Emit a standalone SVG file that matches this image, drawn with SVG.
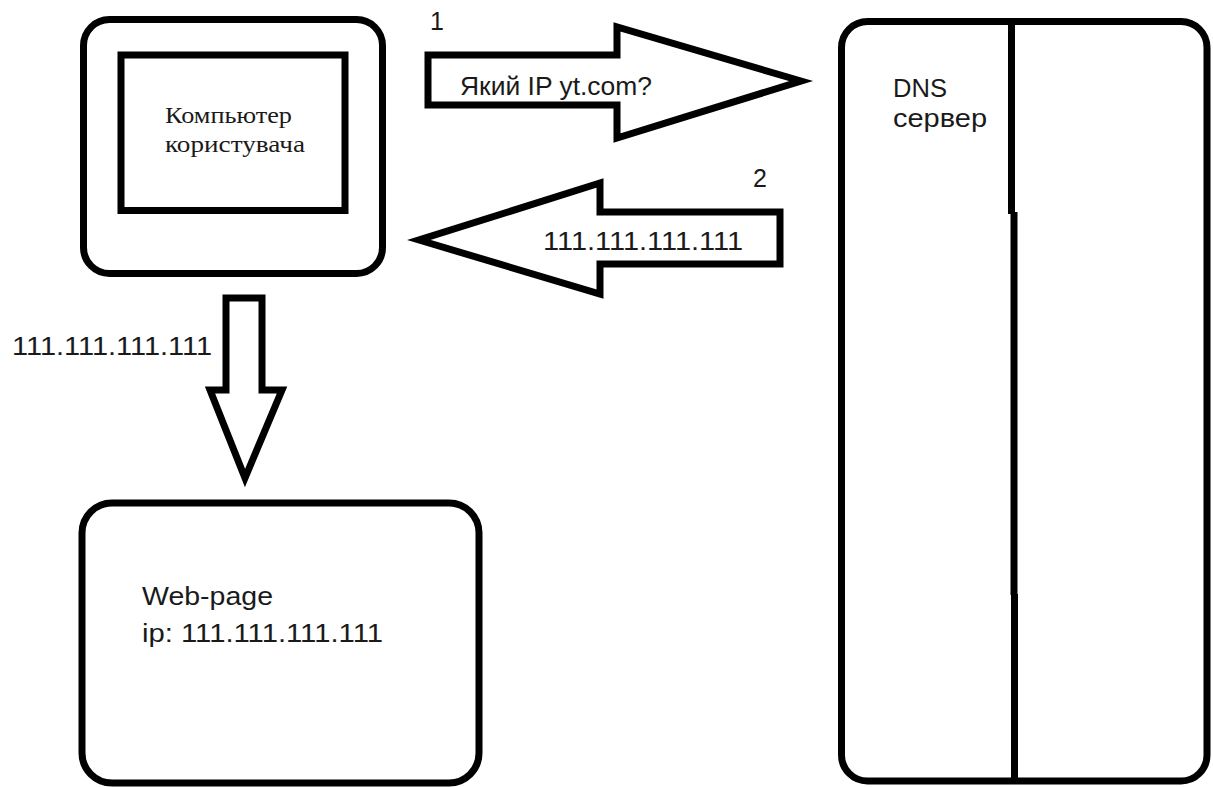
<svg xmlns="http://www.w3.org/2000/svg" width="1213" height="787" viewBox="0 0 1213 787">
  <style>
    .box { fill: #ffffff; stroke: #000000; stroke-width: 7; }
    .arrow { fill: #ffffff; stroke: #000000; stroke-width: 7; stroke-linejoin: miter; stroke-miterlimit: 10; }
    .sans { font-family: "Liberation Sans", Arial, sans-serif; font-size: 25px; fill: #1a1a1a; }
    .serif { font-family: "Liberation Serif", "Times New Roman", serif; font-size: 23px; fill: #1a1a1a; }
  </style>
  <rect width="1213" height="787" fill="#ffffff"/>

  <!-- user's computer: monitor with screen -->
  <g id="computer">
    <rect class="box" x="83.5" y="19.5" width="299" height="254" rx="26" ry="26"/>
    <rect class="box" x="121" y="55" width="224" height="155.5"/>
    <text class="serif" x="165" y="123" textLength="127" lengthAdjust="spacingAndGlyphs">Компьютер</text>
    <text class="serif" x="165" y="152" textLength="140" lengthAdjust="spacingAndGlyphs">користувача</text>
  </g>

  <!-- DNS server: tall cabinet split into two halves -->
  <g id="dns-server">
    <rect class="box" x="841.5" y="21.5" width="365.5" height="759.5" rx="26" ry="26"/>
    <path fill="none" stroke="#000000" stroke-width="7" d="M1011.5,22 V214 M1014,212 V595 M1014.5,594 V781"/>
    <text class="sans" x="893" y="97" textLength="54" lengthAdjust="spacingAndGlyphs">DNS</text>
    <text class="sans" x="893" y="127" textLength="94" lengthAdjust="spacingAndGlyphs">сервер</text>
  </g>

  <!-- web page host -->
  <g id="web-page">
    <rect class="box" x="82" y="503" width="397" height="280" rx="30" ry="30"/>
    <text class="sans" x="142" y="605" textLength="131" lengthAdjust="spacingAndGlyphs">Web-page</text>
    <text class="sans" x="142" y="642" textLength="241" lengthAdjust="spacingAndGlyphs">ip: 111.111.111.111</text>
  </g>

  <!-- block arrows between the nodes -->
  <g id="connectors">
    <g id="query">
      <polygon class="arrow" points="428,55 617,55 617,27 801,81 617,138 617,105 428,105"/>
      <text class="sans" x="430" y="30">1</text>
      <text class="sans" x="460" y="95" textLength="192" lengthAdjust="spacingAndGlyphs">Який IP yt.com?</text>
    </g>
    <g id="answer">
      <polygon class="arrow" points="780,212 600,212 600,183 419,240 600,294 600,264 780,264"/>
      <text class="sans" x="753" y="187">2</text>
      <text class="sans" x="543" y="250" textLength="200" lengthAdjust="spacingAndGlyphs">111.111.111.111</text>
    </g>
    <g id="open-page">
      <polygon class="arrow" points="226,298 262,298 262,390 282,390 245,478 210,390 226,390"/>
      <text class="sans" x="12" y="355" textLength="200" lengthAdjust="spacingAndGlyphs">111.111.111.111</text>
    </g>
  </g>
</svg>
